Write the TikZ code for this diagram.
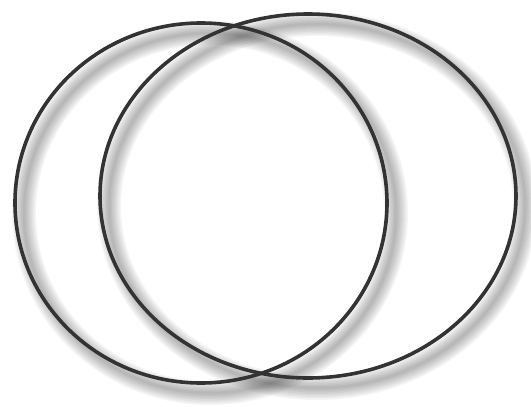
\documentclass[tikz,border=0pt]{standalone}
\usetikzlibrary{shapes.geometric}

\tikzset{
  ring/.style={draw=black!80, line width=3.6pt, ellipse, inner sep=0pt},
  ringshadow/.style={draw=black, opacity=0.04}
}

\begin{document}
\begin{tikzpicture}[x=1pt,y=-1pt]
\useasboundingbox (0,0) rectangle (531,407);

% blurred shadow of the two rings
\foreach \w in {3,6,9,12,15,18,21,24} {
  \draw[ringshadow, line width=\w pt] (210,213) ellipse [x radius=186, y radius=180];
  \draw[ringshadow, line width=\w pt] (317,206) ellipse [x radius=208, y radius=182];
}

\node[ring, minimum width=372pt, minimum height=360pt] (links) at (201,203) {};
\node[ring, minimum width=416pt, minimum height=364pt] (rechts) at (308,196) {};
\end{tikzpicture}
\end{document}
